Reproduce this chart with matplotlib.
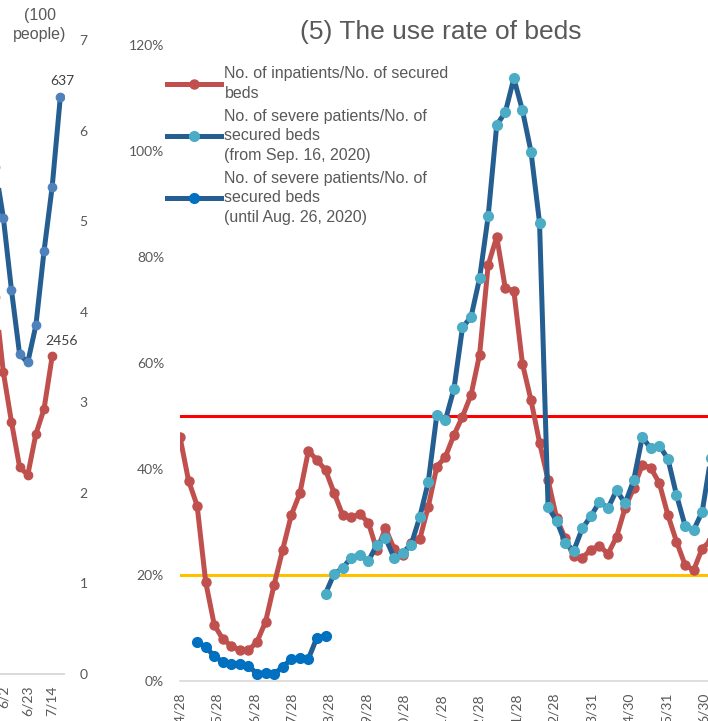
import numpy as np
import matplotlib.pyplot as plt
from matplotlib.lines import Line2D
from matplotlib.ticker import FuncFormatter

# ---- right panel: (5) the use rate of beds, weekly from 2020-04-28 (%) ----
start = np.datetime64('2020-04-28')
inpatients_rate = [46.0, 37.8, 33.1, 18.7, 10.6, 7.9, 6.6, 5.8, 5.8, 7.4,
                   11.2, 18.2, 24.8, 31.3, 35.4, 43.4, 41.7, 39.8, 35.5, 31.3,
                   30.9, 31.5, 29.9, 24.7, 28.8, 25.0, 23.8, 26.0, 26.7, 32.9,
                   40.4, 42.3, 46.4, 49.9, 54.0, 61.6, 78.5, 83.8, 74.1, 73.6,
                   59.9, 53.0, 45.0, 37.9, 30.7, 26.9, 23.5, 23.2, 24.8, 25.5,
                   24.0, 27.2, 32.7, 36.4, 40.8, 40.2, 37.3, 31.3, 26.3, 21.9,
                   20.9, 25.0, 26.5]
# severe patients, new definition (weeks 17..62)
severe_new_rate = [16.5, 20.2, 21.3, 23.3, 23.8, 22.6, 25.7, 27.0, 23.3, 24.2,
                   25.7, 30.9, 37.5, 50.2, 49.2, 55.1, 66.7, 68.7, 76.0, 87.7,
                   104.9, 107.3, 113.7, 107.7, 99.9, 86.5, 32.8, 30.2, 26.1, 24.6,
                   28.8, 31.1, 33.8, 32.6, 36.0, 33.5, 37.9, 46.0, 43.9, 44.4,
                   41.9, 35.1, 29.3, 28.5, 31.9, 42.0]
# severe patients, old definition (weeks 2..17)
severe_old_rate = [7.4, 6.4, 4.7, 3.6, 3.2, 3.2, 2.9, 1.3, 1.6, 1.3,
                   2.7, 4.1, 4.3, 4.2, 8.2, 8.5]
new_first_week = 17
old_first_week = 2
tick_dates = ['2020-04-28', '2020-05-28', '2020-06-28', '2020-07-28', '2020-08-28',
              '2020-09-28', '2020-10-28', '2020-11-28', '2020-12-28', '2021-01-28',
              '2021-02-28', '2021-03-31', '2021-04-30', '2021-05-31', '2021-06-30']
tick_labels = ['4/28', '5/28', '6/28', '7/28', '8/28', '9/28', '10/28', '11/28',
               '12/28', '1/28', '2/28', '3/31', '4/30', '5/31', '6/30']

# ---- left panel (only its right edge is visible) ----
left_severe = [5.6, 5.04, 4.24, 3.53, 3.44, 3.85, 4.67, 5.38, 6.37]   # 100 people
left_inpatients = [2910, 2334, 1948, 1600, 1538, 1855, 2048, 2456]    # people
left_tick_pos = [1, 4, 7]
left_tick_labels = ['6/2', '6/23', '7/14']

W, H = 708, 721
fig = plt.figure(figsize=(W / 100, H / 100), dpi=100)
grey = '#595959'
tickfont = 'Lato'
textfont = 'Liberation Sans'

# right panel
px_day = 1.2229
ax = fig.add_axes([180 / W, 40 / H, 450 * px_day / W, 636 / H])
days = 7 * np.arange(len(inpatients_rate))
ax.axhline(50, color='#FF0000', lw=2.2, zorder=1)
ax.axhline(20, color='#FFC000', lw=2.2, zorder=1)
ax.plot(days, inpatients_rate, color='#C0504D', lw=3.6, marker='o', ms=6.5, zorder=3)
ax.plot(days[new_first_week:new_first_week + len(severe_new_rate)], severe_new_rate,
        color='#255E91', lw=3.6, marker='o', ms=7, mfc='#4BACC6', mec='#4BACC6', zorder=4)
ax.plot(days[old_first_week:old_first_week + len(severe_old_rate)], severe_old_rate,
        color='#255E91', lw=3.6, marker='o', ms=7, mfc='#0070C0', mec='#0070C0', zorder=4)
ax.set_xlim(0, 450)
ax.set_ylim(0, 120)
ax.set_yticks(range(0, 121, 20))
ax.yaxis.set_major_formatter(FuncFormatter(lambda v, p: '%d%%' % v))
tpos = [(np.datetime64(d) - start).astype(int) for d in tick_dates]
ax.set_xticks(tpos)
ax.set_xticklabels(tick_labels, rotation=90)
for s in ['top', 'right', 'left']:
    ax.spines[s].set_visible(False)
ax.spines['bottom'].set_color('#D9D9D9')
ax.spines['bottom'].set_linewidth(1.2)
ax.tick_params(axis='y', length=0, pad=11.5, labelsize=10, labelcolor=grey)
ax.tick_params(axis='x', length=0, pad=8.6, labelsize=10, labelcolor=grey)
for t in ax.get_xticklabels() + ax.get_yticklabels():
    t.set_fontfamily(tickfont)

fig.text(441 / W, 1 - 32 / H, '(5) The use rate of beds', ha='center', va='center',
         fontsize=19, color=grey, family=textfont)

handles = [Line2D([], [], color='#C0504D', lw=3.6, marker='o', ms=6.5),
           Line2D([], [], color='#255E91', lw=3.6, marker='o', ms=7, mfc='#4BACC6', mec='#4BACC6'),
           Line2D([], [], color='#255E91', lw=3.6, marker='o', ms=7, mfc='#0070C0', mec='#0070C0')]
labels = ['No. of inpatients/No. of secured\nbeds',
          'No. of severe patients/No. of\nsecured beds\n(from Sep. 16, 2020)',
          'No. of severe patients/No. of\nsecured beds\n(until Aug. 26, 2020)']
leg = ax.legend(handles, labels, loc='upper left', bbox_to_anchor=(167 / W, 1 - 66 / H),
                bbox_transform=fig.transFigure, frameon=False, borderpad=0, borderaxespad=0,
                handlelength=3.4, handletextpad=0.2, labelspacing=0.5,
                prop={'family': textfont, 'size': 11.5})
for t in leg.get_texts():
    t.set_color(grey)
    t.set_linespacing(1.38)

# left panel
axl = fig.add_axes([-8.9 / W, 47 / H, 73.3 / W, 634 / H])
axl.plot(np.arange(len(left_inpatients)), left_inpatients, color='#C0504D', lw=3.6,
         marker='o', ms=6)
axl.set_ylim(0, 4900)
axl.set_xlim(-0.5, len(left_severe) - 0.5)
axl.set_yticks([])
axr = axl.twinx()
axr.plot(np.arange(len(left_severe)), left_severe, color='#255E91', lw=3.6,
         marker='o', ms=6, mfc='#4F81BD', mec='#4F81BD')
axr.set_ylim(0, 7)
axr.set_yticks(range(0, 8))
axr.set_xlim(-0.5, len(left_severe) - 0.5)
axl.set_xticks(left_tick_pos)
axl.set_xticklabels(left_tick_labels, rotation=90)
for a in (axl, axr):
    for s in ['top', 'right', 'left']:
        a.spines[s].set_visible(False)
    a.spines['bottom'].set_color('#D9D9D9')
    a.spines['bottom'].set_linewidth(1.2)
    a.tick_params(length=0, labelsize=10, labelcolor=grey)
axl.tick_params(axis='x', pad=8)
axr.tick_params(axis='y', pad=11)
for t in axl.get_xticklabels() + axr.get_yticklabels():
    t.set_fontfamily(tickfont)

axr.annotate('637', (len(left_severe) - 1, left_severe[-1]), xytext=(1.5, 11.5),
             textcoords='offset points', ha='center', va='center', fontsize=10,
             color='#404040', family=tickfont)
axl.annotate('2456', (len(left_inpatients) - 1, left_inpatients[-1]), xytext=(7, 11),
             textcoords='offset points', ha='center', va='center', fontsize=10,
             color='#404040', family=tickfont)
fig.text(40 / W, 1 - 25 / H, '(100\npeople)', ha='center', va='center', fontsize=11.5,
         color=grey, family=textfont, linespacing=1.3)

fig.savefig('out.png', dpi=100)
